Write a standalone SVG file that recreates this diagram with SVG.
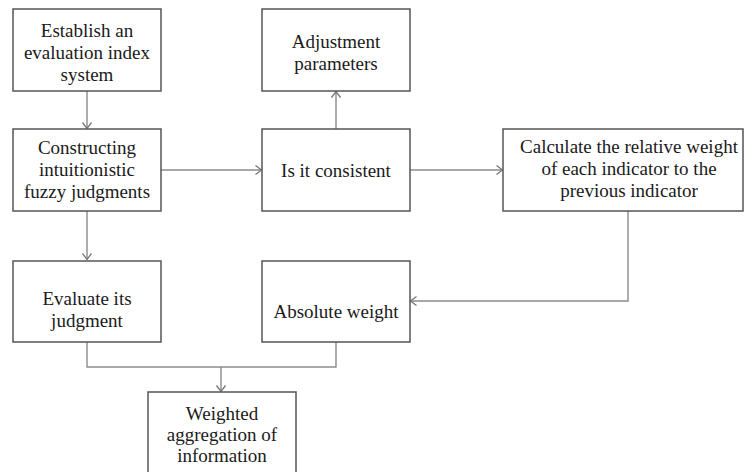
<svg xmlns="http://www.w3.org/2000/svg" width="744" height="472" viewBox="0 0 744 472">
<style>
.box{fill:#fff;stroke:#555;stroke-width:1.5}
.t{font-family:'Liberation Serif','Times New Roman','DejaVu Serif',serif;font-size:19px;fill:#1a1a1a;text-anchor:middle}
.c{fill:none;stroke:#8c8c8c;stroke-width:1.4}
</style>
<defs>
<marker id="ar" markerUnits="userSpaceOnUse" markerWidth="12" markerHeight="12" viewBox="-8 -6 10 12" refX="0" refY="0" orient="auto">
<path d="M-6,-4.5 L0,0 L-6,4.5" fill="none" stroke="#777" stroke-width="1.3"/>
</marker>
</defs>
<rect width="744" height="472" fill="#fff"/>
<g id="connectors">
<path class="c" d="M87,91 V128.5" marker-end="url(#ar)"/>
<path class="c" d="M161,170 H261.5" marker-end="url(#ar)"/>
<path class="c" d="M336,129 V91.5" marker-end="url(#ar)"/>
<path class="c" d="M410,170 H502.5" marker-end="url(#ar)"/>
<path class="c" d="M628,211 V301 H410.5" marker-end="url(#ar)"/>
<path class="c" d="M87,211 V259.5" marker-end="url(#ar)"/>
<path class="c" d="M87,342 V367 H336 V342"/>
<path class="c" d="M221,367 V391.5" marker-end="url(#ar)"/>
</g>
<g id="n1">
<rect class="box" x="13" y="9" width="148" height="82"/>
<text class="t" x="87" y="37">Establish an</text>
<text class="t" x="87" y="59">evaluation index</text>
<text class="t" x="87" y="81">system</text>
</g>
<g id="n2">
<rect class="box" x="13" y="129" width="148" height="82"/>
<text class="t" x="87" y="154">Constructing</text>
<text class="t" x="87" y="176">intuitionistic</text>
<text class="t" x="87" y="198">fuzzy judgments</text>
</g>
<g id="n3">
<rect class="box" x="262" y="9" width="148" height="82"/>
<text class="t" x="336" y="48">Adjustment</text>
<text class="t" x="336" y="70">parameters</text>
</g>
<g id="n4">
<rect class="box" x="262" y="129" width="148" height="82"/>
<text class="t" x="336" y="177">Is it consistent</text>
</g>
<g id="n5">
<rect class="box" x="503" y="129" width="240" height="82"/>
<text class="t" x="629" y="153">Calculate the relative weight</text>
<text class="t" x="629" y="175">of each indicator to the</text>
<text class="t" x="629" y="197">previous indicator</text>
</g>
<g id="n6">
<rect class="box" x="13" y="261" width="148" height="81"/>
<text class="t" x="87" y="305">Evaluate its</text>
<text class="t" x="87" y="327">judgment</text>
</g>
<g id="n7">
<rect class="box" x="262" y="261" width="148" height="81"/>
<text class="t" x="336" y="318">Absolute weight</text>
</g>
<g id="n8">
<rect class="box" x="148" y="392" width="148" height="84"/>
<text class="t" x="222" y="420">Weighted</text>
<text class="t" x="222" y="441">aggregation of</text>
<text class="t" x="222" y="462">information</text>
</g>
</svg>
